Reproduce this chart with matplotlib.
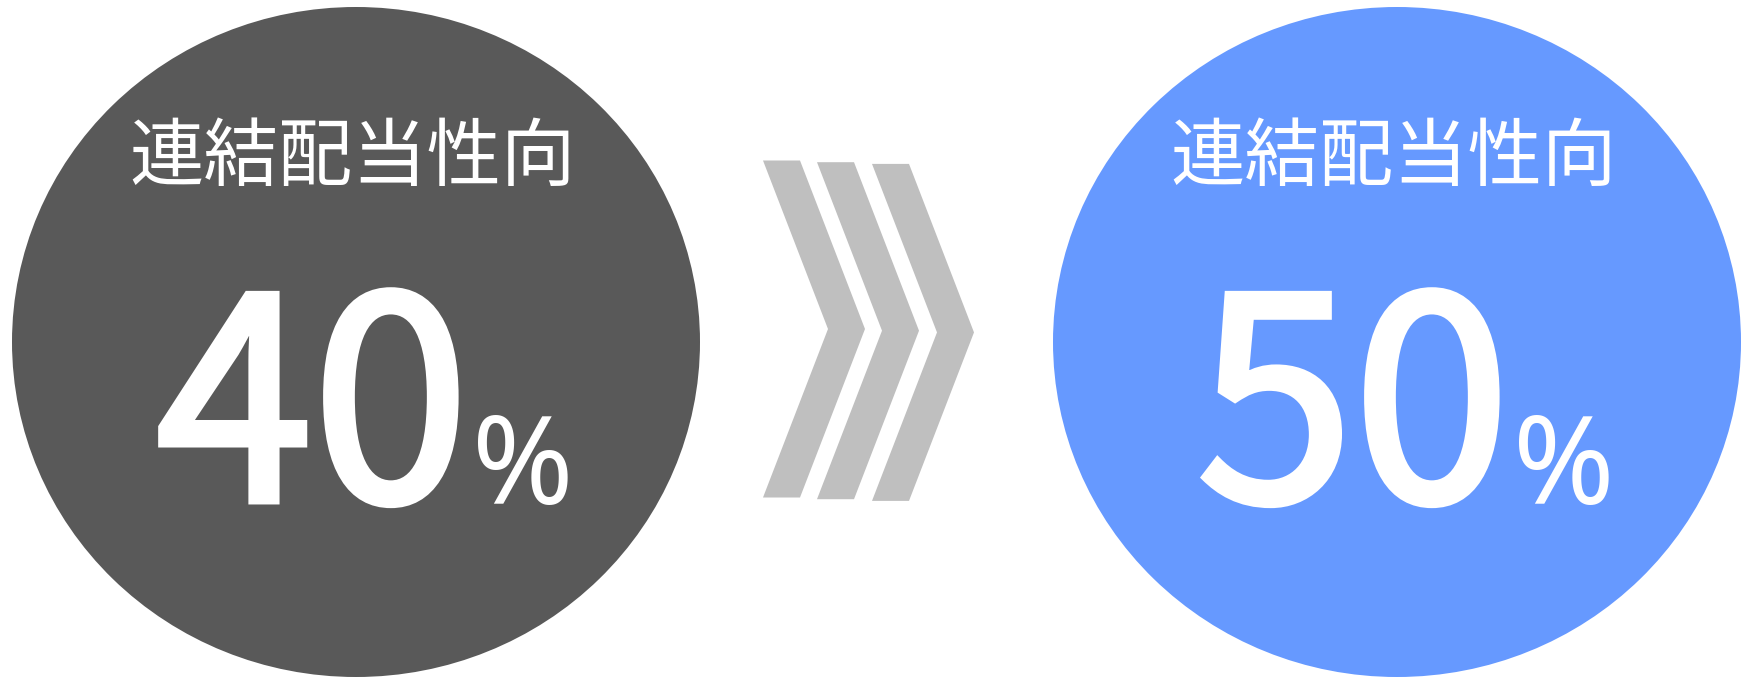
import matplotlib.pyplot as plt
import matplotlib.patheffects as pe
from matplotlib.patches import Ellipse, Polygon

plt.rcParams['font.family'] = ['Noto Sans CJK JP', 'DejaVu Sans']

# 値
labels = ['連結配当性向', '連結配当性向']
values = [40, 50]
colors = ['#595959', '#6699FF']
centers_x = [356, 1397]

fig = plt.figure(figsize=(17.46, 6.77), dpi=100)
ax = fig.add_axes([0, 0, 1, 1])
ax.set_xlim(0, 1746)
ax.set_ylim(677, 0)
ax.axis('off')

thick = [pe.withStroke(linewidth=5, foreground='white', joinstyle='miter')]

# 円
for cx, val, lab, col in zip(centers_x, values, labels, colors):
    ax.add_patch(Ellipse((cx, 342), 688, 670, color=col, lw=0))
    ax.text(cx - 4, 158, lab, color='white', fontsize=53.6,
            ha='center', va='center')
    ax.text(cx + 113, 501, str(val), color='white', fontsize=203,
            ha='right', va='baseline', path_effects=thick)
    ax.text(cx + 116, 504, '%', color='white', fontsize=88,
            family=['Noto Sans', 'DejaVu Sans'], ha='left', va='baseline')

# 矢印（シェブロン）
chev_color = '#BFBFBF'
w = 37       # 帯の幅
depth = 102  # 先端までの出っ張り
for i, x0 in enumerate([763, 817, 872]):
    top = 160.5 + 1.7 * i
    bot = 497.5 + 1.7 * i
    mid = (top + bot) / 2
    pts = [(x0, top), (x0 + w, top), (x0 + depth, mid),
           (x0 + w, bot), (x0, bot), (x0 + depth - w, mid)]
    ax.add_patch(Polygon(pts, closed=True, color=chev_color, lw=0))

fig.savefig('out.png', dpi=100)
